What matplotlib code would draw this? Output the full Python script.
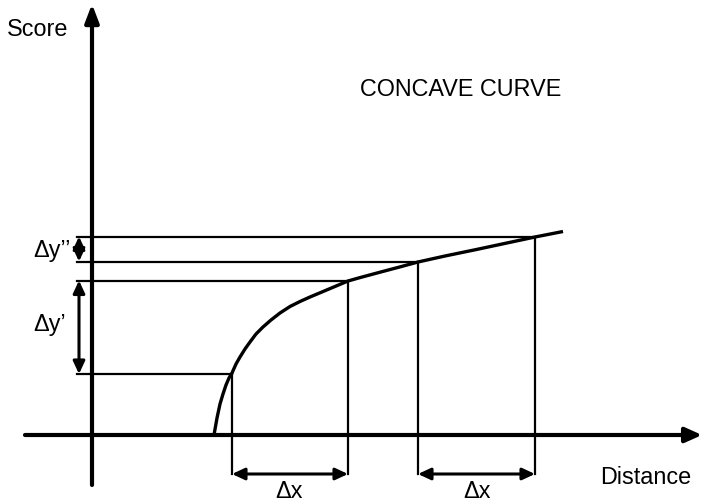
import matplotlib
matplotlib.use('Agg')
import matplotlib.pyplot as plt

# curve (pixel coords, y down)
curve_x = [214, 217, 220, 223, 226, 229, 232, 236, 240, 245, 250, 256, 263, 271, 280,
           290, 300, 310, 320, 334, 348, 360, 380, 400, 418, 445, 475, 505, 535, 563]
curve_y = [435, 418, 404, 394, 385, 378, 373, 364, 357, 349, 342, 334, 327, 320, 313,
           306.5, 301.5, 297, 292.8, 286.9, 281, 277.6, 272.2, 266.9, 262, 256, 249.8, 243.4, 237, 231.5]

# marked points on the curve
mark_x = [232, 348, 418, 535]
mark_y = [374, 280.5, 261.5, 236.5]

axis_y = 435      # position of the distance axis
axis_x = 92       # position of the score axis
left_x = 77       # left end of the horizontal guides
dim_y = 474       # level of the delta-x arrows
dim_x = 79        # x of the delta-y arrows

plt.rcParams['font.family'] = ['Liberation Sans', 'DejaVu Sans']
fs = 16.8

fig = plt.figure(figsize=(7.02, 5.04), dpi=100)
ax = fig.add_axes([0, 0, 1, 1])
ax.set_xlim(0, 702)
ax.set_ylim(504, 0)
ax.axis('off')

# axes with arrows
ax.annotate('', xy=(702, axis_y), xytext=(25, axis_y),
            arrowprops=dict(arrowstyle='-|>,head_length=1.0,head_width=0.45',
                            color='black', lw=3, shrinkA=0, shrinkB=0))
ax.annotate('', xy=(axis_x, 4), xytext=(axis_x, 485),
            arrowprops=dict(arrowstyle='-|>,head_length=1.1,head_width=0.42',
                            color='black', lw=3, shrinkA=0, shrinkB=0))

# curve
ax.plot(curve_x, curve_y, color='black', lw=2.4, solid_capstyle='butt',
        solid_joinstyle='round')

# guide lines
for mx, my in zip(mark_x, mark_y):
    ax.plot([left_x, mx], [my, my], color='black', lw=1.6)
    ax.plot([mx, mx], [my, dim_y], color='black', lw=1.6)

# double arrows
dbl = dict(arrowstyle='<|-|>,head_length=0.75,head_width=0.35',
           color='black', lw=2.2, shrinkA=0, shrinkB=0)
ax.annotate('', xy=(mark_x[0], dim_y), xytext=(mark_x[1], dim_y), arrowprops=dbl)
ax.annotate('', xy=(mark_x[2], dim_y), xytext=(mark_x[3], dim_y), arrowprops=dbl)
ax.annotate('', xy=(dim_x, mark_y[0]), xytext=(dim_x, mark_y[1]), arrowprops=dbl)
ax.annotate('', xy=(dim_x, mark_y[2]), xytext=(dim_x, mark_y[3]), arrowprops=dbl)

# labels
ax.text(38, 29, 'Score', fontsize=fs, ha='center', va='center')
ax.text(646, 477, 'Distance', fontsize=fs, ha='center', va='center')
ax.text(461, 90, 'CONCAVE CURVE', fontsize=fs, ha='center', va='center')
ax.text(289, 492, '\u0394x', fontsize=fs, ha='center', va='center')
ax.text(477, 492, '\u0394x', fontsize=fs, ha='center', va='center')
ax.text(33, 251, '\u0394y\u2019\u2019', fontsize=fs, ha='left', va='center')
ax.text(33, 324, '\u0394y\u2019', fontsize=fs, ha='left', va='center')

fig.savefig('out.png', dpi=100)
